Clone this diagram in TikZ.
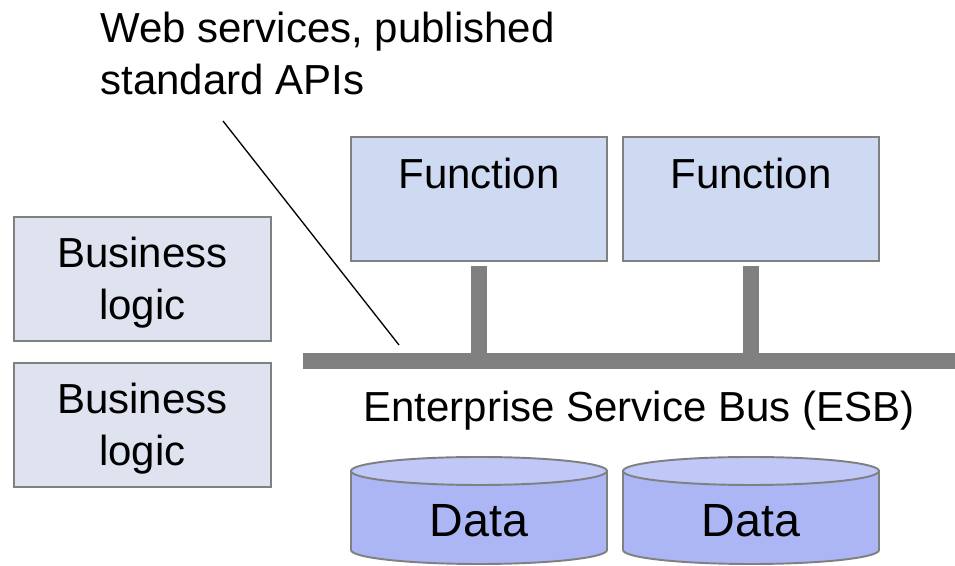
\documentclass[tikz,border=0pt]{standalone}
\usepackage{fontspec}
\setmainfont{Liberation Sans}
\usepackage{tikz}
\usepackage{xcolor}
\usetikzlibrary{positioning}

\definecolor{logicfill}{RGB}{223,227,240}
\definecolor{funcfill}{RGB}{206,218,242}
\definecolor{diskside}{RGB}{172,182,244}
\definecolor{disktop}{RGB}{192,200,248}
\definecolor{edgegray}{RGB}{128,128,128}

\begin{document}
\begin{tikzpicture}[
  every node/.style={font=\fontsize{23.9}{29.6}\selectfont},
  logicbox/.style={draw=edgegray,line width=1.1pt,fill=logicfill,align=center,
    minimum width=5.14cm,text height=2.06cm,text depth=0.42cm,inner sep=0pt},
  funcbox/.style={draw=edgegray,line width=1.1pt,fill=funcfill,
    minimum width=5.12cm,text height=1.04cm,text depth=1.44cm,inner sep=0pt},
  busbar/.style={fill=edgegray,minimum width=13.04cm,minimum height=0.32cm,inner sep=0pt},
  stem/.style={edgegray,line width=0.32cm},
  disk/.style={draw=edgegray,line width=1.1pt},
  disklabel/.style={font=\fontsize{26.5}{32}\selectfont,inner sep=0pt,anchor=base}]
\useasboundingbox (0,0) rectangle (19.1,11.32);

% caption and its pointer
\node[anchor=base west,align=left,inner sep=0pt] (apis) at (2.0,9.42) {Web services, published\\standard APIs};
\coordinate (tail) at (4.46,8.9);
\coordinate (tip) at (7.98,4.42);
\draw[black,line width=0.75pt] (tail) -- (tip);

% business logic
\node[logicbox] (logic1) at (2.85,5.74) {Business\\logic};
\node[logicbox] (logic2) at (2.85,2.82) {Business\\logic};

% functions on the bus
\node[funcbox] (func1) at (9.58,7.34) {Function};
\node[funcbox] (func2) at (15.02,7.34) {Function};
\node[busbar] (bus) at (12.58,4.1) {};
\draw[stem] ([yshift=-0.08cm]func1.south) -- (func1.south |- bus.center);
\draw[stem] ([yshift=-0.08cm]func2.south) -- (func2.south |- bus.center);
\node[anchor=base west,inner sep=0pt] (esb) at (7.26,2.88) {Enterprise Service Bus (ESB)};

% data stores
\filldraw[disk,fill=diskside] (7.02,1.9) -- (7.02,0.32) arc[start angle=180,end angle=360,x radius=2.56cm,y radius=0.28cm] -- (12.14,1.9) -- cycle;
\filldraw[disk,fill=disktop] (9.58,1.9) ellipse [x radius=2.56cm,y radius=0.28cm];
\filldraw[disk,fill=diskside] (12.46,1.9) -- (12.46,0.32) arc[start angle=180,end angle=360,x radius=2.56cm,y radius=0.28cm] -- (17.58,1.9) -- cycle;
\filldraw[disk,fill=disktop] (15.02,1.9) ellipse [x radius=2.56cm,y radius=0.28cm];
\node[disklabel] (data1) at (9.58,0.58) {Data};
\node[disklabel] (data2) at (15.02,0.58) {Data};
\end{tikzpicture}
\end{document}
